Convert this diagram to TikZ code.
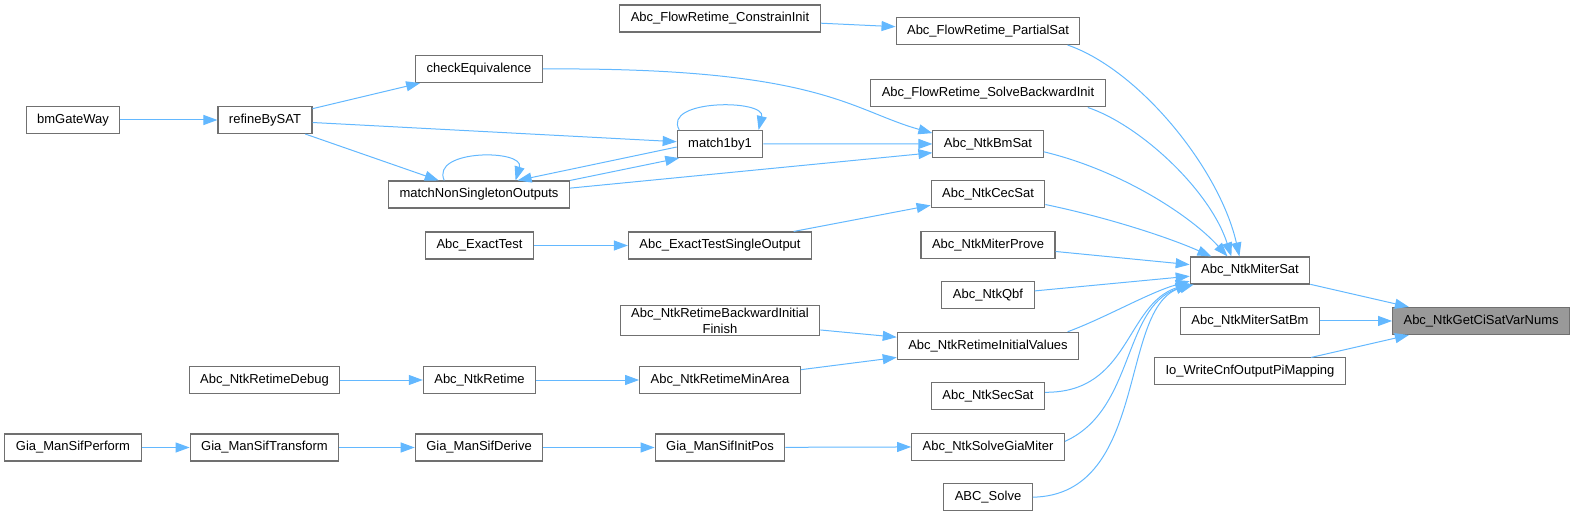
\documentclass[tikz,border=0pt]{standalone}
\usepackage{fontspec}
\setmainfont{Liberation Sans}
\usepackage{tikz}
\usetikzlibrary{arrows.meta, positioning}
\definecolor{edgeblue}{HTML}{63B8FF}
\definecolor{boxgray}{HTML}{707070}
\definecolor{rootgray}{HTML}{999999}
\tikzset{
  fn/.style={draw=boxgray, fill=white, align=center, inner xsep=8.25pt, inner ysep=2pt,
    minimum height=20.25pt, font=\fontsize{9.75}{12}\selectfont, text=black, line width=0.8pt},
  rootfn/.style={fn, fill=rootgray},
  call/.style={-{Triangle[length=10.5pt, width=7.5pt]}, draw=edgeblue, line width=0.75pt}
}

\begin{document}
\begin{tikzpicture}[x=0.75pt, y=-0.75pt, node distance=16.8pt]
\useasboundingbox (0,0) rectangle (1579,517);
% left part
\node[fn] (bmgw) at (73,120) {bmGateWay};
\node[fn] (refine) at (265,120) {refineBySAT};
\node[fn] (checkeq) at (479,69) {checkEquivalence};
\node[fn] (mnso) at (479,194.5) {matchNonSingletonOutputs};
\node[fn] (exact) at (479.5,245.5) {Abc\_ExactTest};
\node[fn] (retdbg) at (264.5,380) {Abc\_NtkRetimeDebug};
\node[fn] (retime) at (479.5,380) {Abc\_NtkRetime};
\node[fn] (sifperf) at (73,447.5) {Gia\_ManSifPerform};
\node[fn] (siftrans) at (264.5,447.5) {Gia\_ManSifTransform};
\node[fn] (sifderive) at (479,447.5) {Gia\_ManSifDerive};
\node[fn] (constr) at (720,18.5) {Abc\_FlowRetime\_ConstrainInit};
\node[fn] (m1b1) at (720,144) {match1by1};
\node[fn] (exsingle) at (720,245.5) {Abc\_ExactTestSingleOutput};
\node[fn] (bwfinish) at (720,320.5) {Abc\_NtkRetimeBackwardInitial\\Finish};
\node[fn] (minarea) at (720,380) {Abc\_NtkRetimeMinArea};
\node[fn] (sifinit) at (720,447.5) {Gia\_ManSifInitPos};
% callers of Abc_NtkMiterSat
\node[fn] (partial) at (988,31) {Abc\_FlowRetime\_PartialSat};
\node[fn, below=25.8pt of partial] (solvebw) {Abc\_FlowRetime\_SolveBackwardInit};
\node[fn, below=of solvebw] (bmsat) {Abc\_NtkBmSat};
\node[fn, below=of bmsat] (cecsat) {Abc\_NtkCecSat};
\node[fn, below=of cecsat] (prove) {Abc\_NtkMiterProve};
\node[fn, below=of prove] (qbf) {Abc\_NtkQbf};
\node[fn, below=of qbf] (initval) {Abc\_NtkRetimeInitialValues};
\node[fn, below=of initval] (secsat) {Abc\_NtkSecSat};
\node[fn, below=of secsat] (giamiter) {Abc\_NtkSolveGiaMiter};
\node[fn, below=of giamiter] (abcsolve) {ABC\_Solve};
% right part
\node[fn] (mitersat) at (1250,270.5) {Abc\_NtkMiterSat};
\node[fn, below=of mitersat] (satbm) {Abc\_NtkMiterSatBm};
\node[fn, below=of satbm] (iowrite) {Io\_WriteCnfOutputPiMapping};
\node[rootfn, right=54pt of satbm] (getci) {Abc\_NtkGetCiSatVarNums};

\draw[call] (bmgw) -- (refine);
\draw[call] (refine) -- (checkeq);
\draw[call] (refine) -- (m1b1);
\draw[call] (refine) -- (mnso);
\draw[call] (mnso.158) .. controls (430,149) and (525,149) .. (mnso.21);
\draw[call] (m1b1.161) .. controls (662,99) and (766,99) .. (m1b1.20);
\draw[call] (m1b1.184) -- (mnso.20);
\draw[call] (mnso.north east) -- (m1b1.199);
\draw[call] (mnso.4) -- (bmsat.189);
\draw[call] (m1b1) -- (bmsat);
\draw[call] (checkeq.east) .. controls (820,67) and (850,110) .. (bmsat.169);
\draw[call] (constr) -- (partial);
\draw[call] (exact) -- (exsingle);
\draw[call] (exsingle) -- (cecsat);
\draw[call] (retdbg) -- (retime);
\draw[call] (retime) -- (minarea);
\draw[call] (minarea) -- (initval);
\draw[call] (bwfinish) -- (initval);
\draw[call] (sifperf) -- (siftrans);
\draw[call] (siftrans) -- (sifderive);
\draw[call] (sifderive) -- (sifinit);
\draw[call] (sifinit) -- (giamiter);
\draw[call] (partial.-10) .. controls (1140,70) and (1220,170) .. (mitersat.127);
\draw[call] (solvebw.-8) .. controls (1140,125) and (1210,190) .. (mitersat.143);
\draw[call] (bmsat.-8) .. controls (1120,170) and (1190,215) .. (mitersat.148);
\draw[call] (cecsat.-10) .. controls (1110,218) and (1170,238) .. (mitersat.160);
\draw[call] (prove) -- (mitersat);
\draw[call] (qbf) -- (mitersat);
\draw[call] (initval.10) .. controls (1105,318) and (1150,292) .. (mitersat.190);
\draw[call] (secsat.4) .. controls (1130,393) and (1125,305) .. (mitersat.192);
\draw[call] (giamiter.4) .. controls (1135,410) and (1122,308) .. (mitersat.193);
\draw[call] (abcsolve.east) .. controls (1150,495) and (1118,305) .. (mitersat.194);
\draw[call] (mitersat) -- (getci.169);
\draw[call] (satbm) -- (getci);
\draw[call] (iowrite) -- (getci.191);
\end{tikzpicture}
\end{document}
